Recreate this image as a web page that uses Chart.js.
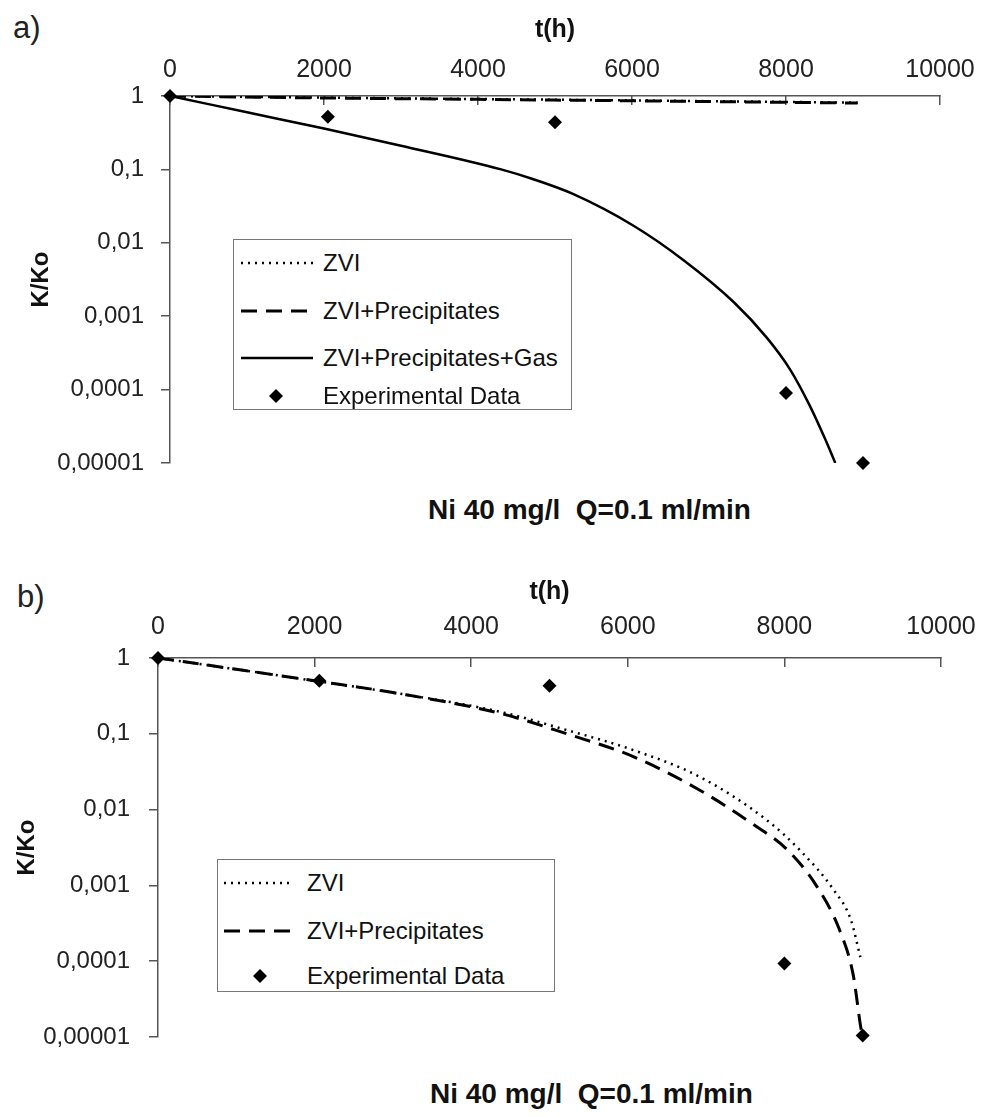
<!DOCTYPE html>
<html>
<head>
<meta charset="utf-8">
<script src="https://cdn.jsdelivr.net/npm/chart.js@4.4.1/dist/chart.umd.min.js"></script>
<style>
  html, body { margin:0; padding:0; background:#fff; }
  body { width:984px; height:1117px; position:relative; overflow:hidden; font-family:"Liberation Sans", Arial, sans-serif; color:#111; }
  .cv { position:absolute; left:0; }
  .panel { position:absolute; font-size:31px; line-height:31px; color:#222; }
  .btitle { position:absolute; font-weight:bold; font-size:28px; line-height:30px; white-space:pre; color:#111; }
  .legend { position:absolute; border:1.5px solid #777; background:#fff; box-sizing:border-box; }
  .row { position:absolute; left:0; right:0; height:30px; }
  .row svg { position:absolute; left:0; top:0; }
  .row span { position:absolute; font-size:24px; line-height:30px; top:0; white-space:nowrap; color:#111; }
</style>
</head>
<body>
<div class="panel" style="left:13px;top:12px;">a)</div>
<div class="panel" style="left:17px;top:581px;">b)</div>

<canvas id="chartA" class="cv" width="984" height="479" style="top:0px;"></canvas>
<canvas id="chartB" class="cv" width="984" height="493" style="top:560px;"></canvas>

<div class="btitle" style="left:428px;top:495px;">Ni 40 mg/l  Q=0.1 ml/min</div>
<div class="btitle" style="left:430px;top:1079px;">Ni 40 mg/l  Q=0.1 ml/min</div>

<div class="legend" style="left:233px;top:239px;width:339px;height:171px;">
  <div class="row" style="top:8px;">
    <svg width="90" height="30"><line x1="7" y1="15" x2="79" y2="15" stroke="#000" stroke-width="2.5" stroke-dasharray="2,5"/></svg>
    <span style="left:89px;">ZVI</span>
  </div>
  <div class="row" style="top:56px;">
    <svg width="90" height="30"><line x1="7" y1="15" x2="79" y2="15" stroke="#000" stroke-width="3" stroke-dasharray="16,9"/></svg>
    <span style="left:89px;">ZVI+Precipitates</span>
  </div>
  <div class="row" style="top:103px;">
    <svg width="90" height="30"><line x1="7" y1="15" x2="79" y2="15" stroke="#000" stroke-width="2.5"/></svg>
    <span style="left:89px;">ZVI+Precipitates+Gas</span>
  </div>
  <div class="row" style="top:141px;">
    <svg width="90" height="30"><polygon points="42,8 49,15 42,22 35,15" fill="#000"/></svg>
    <span style="left:89px;">Experimental Data</span>
  </div>
</div>

<div class="legend" style="left:217px;top:859px;width:338px;height:133px;">
  <div class="row" style="top:8px;">
    <svg width="90" height="30"><line x1="6" y1="15" x2="73" y2="15" stroke="#000" stroke-width="2.5" stroke-dasharray="2,5"/></svg>
    <span style="left:89px;">ZVI</span>
  </div>
  <div class="row" style="top:56px;">
    <svg width="90" height="30"><line x1="6" y1="15" x2="73" y2="15" stroke="#000" stroke-width="3" stroke-dasharray="16,9"/></svg>
    <span style="left:89px;">ZVI+Precipitates</span>
  </div>
  <div class="row" style="top:101px;">
    <svg width="90" height="30"><polygon points="42,8 49,15 42,22 35,15" fill="#000"/></svg>
    <span style="left:89px;">Experimental Data</span>
  </div>
</div>

<script>
// ---------- DATA ----------
// axis ticks
const xTicks = [0, 2000, 4000, 6000, 8000, 10000];
const yTickVals = [0.00001, 0.0001, 0.001, 0.01, 0.1, 1];
const yTickLabels = ['0,00001', '0,0001', '0,001', '0,01', '0,1', '1'];

// panel a)
const aZviT  = [0, 2000, 4000, 6000, 8000, 8930];
const aZviK  = [1, 0.95, 0.91, 0.87, 0.83, 0.81];
const aPrecT = [0, 2000, 4000, 6000, 8000, 8930];
const aPrecK = [1, 0.94, 0.90, 0.86, 0.82, 0.80];
const aGasT  = [0, 1000, 2000, 3000, 4300, 4710, 5240, 6020, 6670, 7320, 7750, 8050, 8310, 8510, 8640];
const aGasK  = [1, 0.6, 0.36, 0.21, 0.1, 0.074, 0.046, 0.0171, 0.0058, 0.00156, 0.00051, 0.00019, 0.00006, 0.000021, 0.00001];
const aExpT  = [0, 2050, 5000, 8000, 9000];
const aExpK  = [1, 0.52, 0.44, 0.00009, 0.00001];

// panel b)
const bZviT  = [0, 1000, 2000, 3000, 4370, 5220, 6070, 6920, 7780, 8200, 8630, 8850, 8970];
const bZviK  = [1, 0.71, 0.5, 0.35, 0.195, 0.112, 0.061, 0.027, 0.0072, 0.0029, 0.00087, 0.00035, 0.000113];
const bPrecT = [0, 1000, 2000, 3000, 4370, 5220, 6070, 6920, 7610, 8030, 8420, 8710, 8880, 8970, 8990];
const bPrecK = [1, 0.71, 0.5, 0.35, 0.186, 0.1, 0.05, 0.018, 0.0063, 0.003, 0.00095, 0.00025, 0.000065, 0.0000145, 0.000011];
const bExpT  = [0, 2060, 5000, 8000, 9000];
const bExpK  = [1, 0.5, 0.43, 0.000093, 0.0000105];

// ---------- HELPERS ----------
const FONT = '"Liberation Sans", Arial, sans-serif';
const pts = (t, k) => t.map((x, i) => ({ x: x, y: k[i] }));

function lineDs(label, t, k, style) {
  const ds = {
    label: label,
    data: pts(t, k),
    borderColor: '#000',
    backgroundColor: '#000',
    borderWidth: style === 'dashed' ? 3 : 2.5,
    pointRadius: 0,
    showLine: true,
    fill: false,
    cubicInterpolationMode: 'monotone',
    borderCapStyle: 'butt'
  };
  if (style === 'dotted') ds.borderDash = [2, 5];
  if (style === 'dashed') ds.borderDash = [16, 9];
  return ds;
}
function expDs(t, k) {
  return {
    label: 'Experimental Data',
    data: pts(t, k),
    showLine: false,
    pointStyle: 'rectRot',
    pointRadius: 7,
    pointBackgroundColor: '#000',
    pointBorderColor: '#000',
    pointBorderWidth: 0,
    clip: false
  };
}

function makeOptions(cfg) {
  return {
    responsive: false,
    animation: false,
    devicePixelRatio: 1,
    layout: { padding: { left: 0, right: cfg.padRight, top: 0, bottom: 16 } },
    plugins: { legend: { display: false }, tooltip: { enabled: false } },
    scales: {
      x: {
        type: 'linear',
        position: 'top',
        min: 0, max: 10000,
        afterBuildTicks: s => { s.ticks = xTicks.map(v => ({ value: v })); },
        afterFit: s => { s.height = cfg.xHeight; s.paddingLeft = 0; s.paddingRight = 0; },
        ticks: {
          color: '#222',
          font: { family: FONT, size: 25 },
          padding: cfg.xTickPad,
          maxRotation: 0,
          callback: v => String(v)
        },
        grid: { drawOnChartArea: false, drawTicks: true, tickLength: -9, color: '#555', lineWidth: 1.5 },
        border: { display: true, color: '#555', width: 1.5 },
        title: {
          display: true, text: 't(h)', color: '#111',
          font: { family: FONT, size: 25, weight: 'bold' },
          padding: { top: cfg.xTitlePad, bottom: 0 }
        }
      },
      y: {
        type: 'logarithmic',
        position: 'left',
        min: 0.00001, max: 1,
        afterBuildTicks: s => { s.ticks = yTickVals.map(v => ({ value: v })); },
        afterFit: s => { s.width = cfg.yWidth; s.paddingTop = 0; s.paddingBottom = 0; },
        ticks: {
          color: '#222',
          font: { family: FONT, size: 24 },
          padding: cfg.yTickPad,
          callback: v => {
            const i = yTickVals.findIndex(t => Math.abs(Math.log10(t) - Math.log10(v)) < 1e-6);
            return i >= 0 ? yTickLabels[i] : '';
          }
        },
        grid: { drawOnChartArea: false, drawTicks: true, tickLength: 9, color: '#555', lineWidth: 1.5 },
        border: { display: true, color: '#555', width: 1.5 },
        title: {
          display: true, text: 'K/Ko', color: '#111',
          font: { family: FONT, size: 24, weight: 'bold' },
          padding: { top: cfg.yTitlePad, bottom: 0 }
        }
      }
    }
  };
}

// ---------- CHART a ----------
new Chart(document.getElementById('chartA'), {
  type: 'line',
  data: {
    datasets: [
      lineDs('ZVI', aZviT, aZviK, 'dotted'),
      lineDs('ZVI+Precipitates', aPrecT, aPrecK, 'dashed'),
      lineDs('ZVI+Precipitates+Gas', aGasT, aGasK, 'solid'),
      expDs(aExpT, aExpK)
    ]
  },
  options: makeOptions({ padRight: 44, xHeight: 96, xTickPad: 20, xTitlePad: 15, yWidth: 170, yTickPad: 17, yTitlePad: 27 })
});

// ---------- CHART b ----------
new Chart(document.getElementById('chartB'), {
  type: 'line',
  data: {
    datasets: [
      lineDs('ZVI', bZviT, bZviK, 'dotted'),
      lineDs('ZVI+Precipitates', bPrecT, bPrecK, 'dashed'),
      expDs(bExpT, bExpK)
    ]
  },
  options: makeOptions({ padRight: 43, xHeight: 98, xTickPad: 25, xTitlePad: 17, yWidth: 158, yTickPad: 19, yTitlePad: 13 })
});
</script>
</body>
</html>
